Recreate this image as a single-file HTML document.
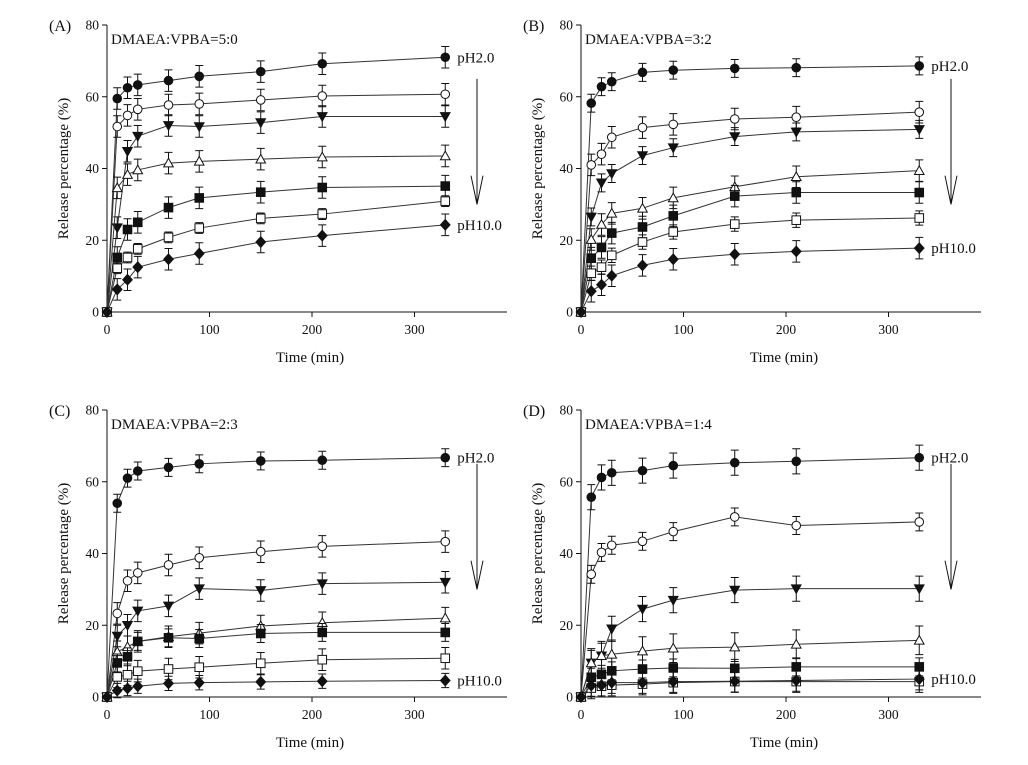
<!DOCTYPE html>
<html><head><meta charset="utf-8"><style>
body{margin:0;background:#fff}
svg text{font-family:"Liberation Serif",serif;fill:#111}
</style></head><body>
<svg id="chart" width="1028" height="760" viewBox="0 0 1028 760"></svg>
<script>
const times = [0,10,20,30,60,90,150,210,330];
const xTicks = [0,100,200,300];
const yTicks = [0,20,40,60,80];
const panelLetters = ["(A)","(B)","(C)","(D)"];
const ratioLabels = ["DMAEA:VPBA=5:0","DMAEA:VPBA=3:2","DMAEA:VPBA=2:3","DMAEA:VPBA=1:4"];
const markerTypes = ["circle-filled","circle-open","tri-down","tri-up-open","square-filled","square-open","diamond"];
const seriesNames = ["ph-2-0","ph-3","ph-4","ph-6","ph-7","ph-8","ph-10-0"];
const dataA = [
 [0,59.5,62.5,63.3,64.5,65.7,67,69.2,71],
 [0,51.7,54.8,56.5,57.7,58,59.1,60.2,60.7],
 [0,23.5,44.8,49,52,51.7,52.8,54.5,54.5],
 [0,34.6,38.3,39.6,41.5,42,42.6,43.2,43.5],
 [0,15.2,23,25,29.1,31.8,33.4,34.7,35.1],
 [0,12.2,15.2,17.6,20.8,23.4,26.1,27.3,30.9],
 [0,6.3,9,12.5,14.7,16.3,19.5,21.3,24.3]];
const dataB = [
 [0,58.2,62.8,64.2,66.8,67.4,67.9,68.1,68.6],
 [0,41,44,48.7,51.4,52.3,53.8,54.3,55.7],
 [0,26.5,36,38.6,43.6,45.8,48.9,50.2,50.9],
 [0,20.2,24.4,27.5,28.9,31.8,34.9,37.7,39.4],
 [0,15,18,22,23.7,26.8,32.3,33.3,33.3],
 [0,10.8,12.5,15.8,19.5,22.3,24.5,25.6,26.2],
 [0,5.8,7.6,10.1,13,14.7,16.1,16.9,17.8]];
const dataC = [
 [0,54,61,63,64,65,65.8,66,66.7],
 [0,23.3,32.4,34.6,36.8,38.8,40.5,42,43.3],
 [0,17,20,24,25.4,30.2,29.7,31.6,32],
 [0,12.6,14,15.5,16.8,17.8,19.8,20.7,22],
 [0,9.5,11.2,15.5,16.5,16.3,17.7,18,18],
 [0,5.6,6.2,7.2,7.8,8.3,9.4,10.4,10.8],
 [0,1.8,2.4,3,3.8,4,4.2,4.4,4.6]];
const dataD = [
 [0,55.7,61.2,62.5,63.1,64.5,65.3,65.7,66.7],
 [0,34.2,40.3,42.3,43.4,46.1,50.2,47.8,48.8],
 [0,9.5,11.5,19,24.5,27,29.8,30.2,30.2],
 [0,9.5,11.5,11.9,12.8,13.6,13.9,14.7,15.8],
 [0,5.5,6.3,7.3,7.8,8.1,8,8.4,8.4],
 [0,2.5,3,3.3,3.6,4,4.3,4.3,4.3],
 [0,3.2,3.3,4,4,4.3,4.4,4.6,5]];
const errA = [3,3,3,3,3,1.5,3];
const errB = [2.5,3,2.5,3,3,2,3];
const errC = [2.5,3,3,3,2.5,3,2];
const errD = [3.5,2.5,3.5,4,2.5,3,3];

const panels = [
 {x0:107,y0:312,data:dataA,err:errA},
 {x0:581,y0:312,data:dataB,err:errB},
 {x0:107,y0:697,data:dataC,err:errC},
 {x0:581,y0:697,data:dataD,err:errD}];
const XS = 1.025, YS = 287/80;
const NS = "http://www.w3.org/2000/svg";
const svg = document.getElementById('chart');
function mk(tag, attrs, parent, text){
  const e = document.createElementNS(NS, tag);
  for (const k in attrs) e.setAttribute(k, attrs[k]);
  if (text !== undefined) e.textContent = text;
  (parent||svg).appendChild(e); return e;
}
function marker(g, type, x, y){
  const r = 4.3;
  let e;
  if (type.startsWith('circle')) e = mk('circle',{cx:x,cy:y,r:r},g);
  else if (type.startsWith('square')) e = mk('rect',{x:x-r,y:y-r,width:2*r,height:2*r},g);
  else if (type==='tri-down') e = mk('polygon',{points:`${x-r-0.5},${y-r+0.5} ${x+r+0.5},${y-r+0.5} ${x},${y+r+0.5}`},g);
  else if (type==='tri-up-open') e = mk('polygon',{points:`${x-r-0.5},${y+r-0.5} ${x+r+0.5},${y+r-0.5} ${x},${y-r-0.5}`},g);
  else e = mk('polygon',{points:`${x},${y-r-1} ${x+r+0.5},${y} ${x},${y+r+1} ${x-r-0.5},${y}`},g);
  const open = type.includes('open');
  e.setAttribute('fill', open ? '#fff' : '#111');
  e.setAttribute('stroke', '#111');
  e.setAttribute('stroke-width', '1');
  
  
}
panels.forEach((p, pi) => {
  const g = mk('g', {});
  
  
  const sx = t => p.x0 + t * XS;
  const sy = v => p.y0 - v * YS;
  const xEnd = p.x0 + 400;
  const ax = mk('g', {stroke:'#111','stroke-width':1}, g);
  
  
  mk('line', {x1:p.x0, y1:sy(80), x2:p.x0, y2:p.y0}, ax);
  mk('line', {x1:p.x0, y1:p.y0, x2:xEnd, y2:p.y0}, ax);
  yTicks.forEach(v => {
    mk('line', {x1:p.x0-5, y1:sy(v), x2:p.x0, y2:sy(v)}, ax);
    const t = mk('text', {x:p.x0-8, y:sy(v)+4.5, 'text-anchor':'end', 'font-size':13.5}, g, v);
    
    
  });
  xTicks.forEach(v => {
    mk('line', {x1:sx(v), y1:p.y0, x2:sx(v), y2:p.y0+5}, ax);
    const t = mk('text', {x:sx(v), y:p.y0+22, 'text-anchor':'middle', 'font-size':13.5}, g, v);
    
    
  });
  const xt = mk('text', {x:p.x0+203, y:p.y0+50, 'text-anchor':'middle', 'font-size':15}, g, 'Time (min)');
  
  
  const yt = mk('text', {x:0, y:0, 'text-anchor':'middle', 'font-size':15, transform:`translate(${p.x0-39},${sy(40)}) rotate(-90)`}, g, 'Release percentage (%)');
  
  
  const pl = mk('text', {x:p.x0-58, y:sy(80)+6, 'font-size':16}, g, panelLetters[pi]);
  
  
  const rl = mk('text', {x:p.x0+4, y:sy(80)+19, 'font-size':15}, g, ratioLabels[pi]);
  
  
  p.data.forEach((vals, si) => {
    const sg = mk('g', {}, g);
    
    
    const pts = vals.map((v, i) => sx(times[i]) + ',' + sy(v)).join(' ');
    mk('polyline', {points:pts, fill:'none', stroke:'#333', 'stroke-width':1}, sg);
    const e = p.err[si];
    vals.forEach((v, i) => {
      if (i === 0) return;
      const x = sx(times[i]);
      const eb = mk('path', {d:`M${x},${sy(v+e)}V${sy(v-e)}M${x-4},${sy(v+e)}H${x+4}M${x-4},${sy(v-e)}H${x+4}`, stroke:'#111', 'stroke-width':1, fill:'none'}, sg);
      
      
    });
    vals.forEach((v, i) => marker(sg, markerTypes[si], sx(times[i]), sy(v)));
  });
  const first = p.data[0], last = p.data[6];
  const l1 = mk('text', {x:sx(330)+12, y:sy(first[8])+5, 'font-size':15}, g, 'pH2.0');
  
  
  const l2 = mk('text', {x:sx(330)+12, y:sy(last[8])+5, 'font-size':15}, g, 'pH10.0');
  
  
  const axx = p.x0 + 370;
  const arr = mk('path', {d:`M${axx},${sy(65)}V${sy(30)}M${axx-6},${sy(38)}L${axx},${sy(30)}L${axx+6},${sy(38)}`, stroke:'#111', 'stroke-width':1, fill:'none'}, g);
  
  
});
</script>
</body></html>
